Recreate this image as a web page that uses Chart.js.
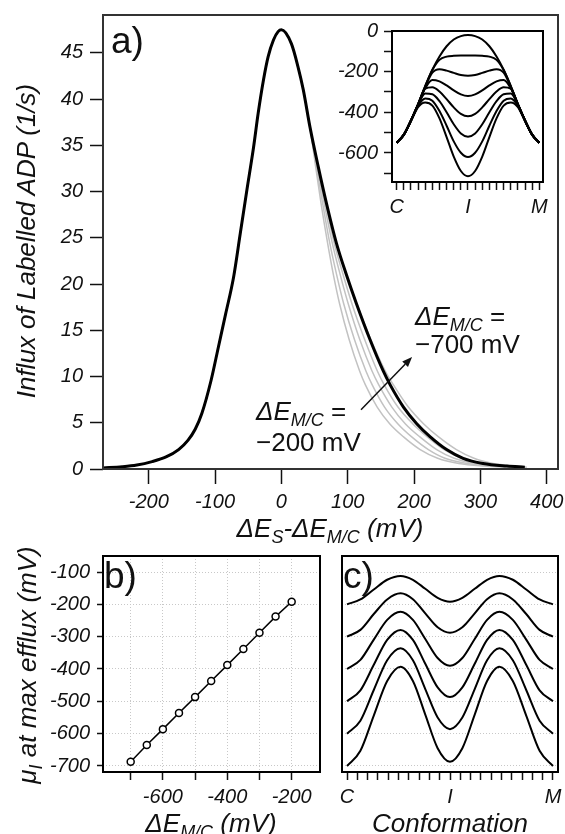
<!DOCTYPE html>
<html>
<head>
<meta charset="utf-8">
<title>Influx of labelled ADP</title>
<script src="https://cdn.jsdelivr.net/npm/chart.js@4.4.1/dist/chart.umd.min.js"></script>
<style>
  html, body { margin: 0; padding: 0; background: #fff; }
  #page { position: relative; width: 565px; height: 834px; overflow: hidden;
          font-family: 'Liberation Sans', Arial, sans-serif; color: #111; }
  canvas { position: absolute; }
  .txt { position: absolute; white-space: nowrap; font-size: 26px; line-height: 26px; }
  .it { font-style: italic; }
  .sub { font-size: 18px; line-height: 0; position: relative; top: 6px; font-style: italic; }
  .rot { transform: translate(-50%, -50%) rotate(-90deg); }
  .ctr { transform: translateX(-50%); }
  .panel { font-size: 37px; line-height: 37px; }
</style>
</head>
<body>
<div id="page">
  <canvas id="chartA" width="565" height="545" style="left:0;top:0"></canvas>
  <canvas id="chartInset" width="260" height="210" style="left:300px;top:15px"></canvas>
  <canvas id="chartB" width="330" height="294" style="left:0;top:540px"></canvas>
  <canvas id="chartC" width="235" height="294" style="left:330px;top:540px"></canvas>

  <div class="txt panel" style="left:111px;top:22px">a)</div>
  <div class="txt panel" style="left:104px;top:557px">b)</div>
  <div class="txt panel" style="left:343px;top:557px">c)</div>

  <div class="txt it rot" style="left:26px;top:241px">Influx of Labelled ADP (1/s)</div>
  <div class="txt ctr" style="left:330px;top:515px"><span class="it">ΔE</span><span class="sub">S</span><span class="it">-ΔE</span><span class="sub">M/C</span><span class="it"> (mV)</span></div>

  <div class="txt" style="left:415px;top:303px"><span class="it">ΔE</span><span class="sub">M/C</span> =</div>
  <div class="txt" style="left:415px;top:331px">−700 mV</div>
  <div class="txt" style="left:256px;top:398px"><span class="it">ΔE</span><span class="sub">M/C</span> =</div>
  <div class="txt" style="left:256px;top:429px">−200 mV</div>

  <div class="txt it rot" style="left:27px;top:665px">μ<span class="sub">I</span> at max efflux (mV)</div>
  <div class="txt ctr" style="left:211px;top:810px"><span class="it">ΔE</span><span class="sub">M/C</span><span class="it"> (mV)</span></div>
  <div class="txt it ctr" style="left:450px;top:810px">Conformation</div>
</div>

<script>
// ---- panel a: influx vs ΔE_S-ΔE_M/C ----
// rising flank, identical for every ΔE_M/C
const flankX = [-269, -240, -218, -195, -174, -155, -141, -130, -120, -106, -95, -84, -72, -62, -52, -42, -35, -27, -20, -12, -5];
const flankY = [0.12, 0.25, 0.43, 0.8, 1.3, 2.1, 3.1, 4.3, 6.0, 9.6, 13.2, 16.8, 20.8, 25.5, 30.2, 34.8, 38.5, 42.1, 44.6, 46.4, 47.3];
// falling flank: common levels, x read for each curve
const tailY   = [47.5, 46, 43.5, 41, 37, 32.7, 28.7, 24.4, 21.0, 17.9, 14.0, 10.6, 9.1, 6.7, 4.9, 3.5, 2.1, 1.16, 0.6, 0.32, 0.2];
const tail200 = [0, 15, 25, 33, 43, 51.6, 59.8, 69.7, 78.4, 87.6, 102.1, 117.9, 126.6, 144.4, 163.2, 183.7, 209.2, 235.6, 267.5, 306, 338];
const tail300 = [0, 15, 25, 33, 43, 52.7, 62.2, 73.0, 83.3, 93.8, 110.1, 127.4, 136.9, 155.5, 175.4, 196, 221.6, 246.6, 279.7, 316.2, 345];
const tail400 = [0, 15, 25, 33, 43, 53.8, 64.6, 76.8, 88.7, 100.6, 118.1, 136.6, 146.8, 166.5, 186.7, 208.3, 234.1, 260.3, 291.8, 326.4, 352];
const tail500 = [0, 15, 25, 33, 43, 54.9, 66.6, 79.7, 93.1, 106.2, 125.5, 144.6, 155.0, 175.7, 197.9, 219.5, 245.3, 271.3, 301, 336.6, 360];
const tail600 = [0, 15, 25, 33, 43, 55.5, 68, 83, 98, 113, 133.5, 153.5, 164, 184, 204, 224, 249, 274, 304, 340, 367];
const tail700 = [0, 15, 25, 33, 43, 55.5, 68, 83, 98, 113.6, 134.8, 156.6, 168.9, 191.4, 214.2, 236.5, 263.9, 290.4, 319.2, 350.2, 370];
const xTicksA = [-200, -100, 0, 100, 200, 300, 400];
const yTicksA = [0, 5, 10, 15, 20, 25, 30, 35, 40, 45];
const arrowTail = [120, 6.4];
const arrowHead = [197, 12.1];

// ---- inset: energy profiles along the conformation coordinate ----
const insetS = [0, 0.05, 0.1, 0.15, 0.2, 0.25, 0.3, 0.35, 0.4, 0.45, 0.5, 0.55, 0.6, 0.65, 0.7, 0.75, 0.8, 0.85, 0.9, 0.95, 1];
const inset0 = [-550, -510, -440, -360, -270, -190, -125, -75, -42, -25, -20, -25, -42, -75, -125, -190, -270, -360, -440, -510, -550];
const inset1 = [-550, -510, -440, -360, -272, -192, -142, -126, -122, -121, -121, -121, -122, -126, -142, -192, -272, -360, -440, -510, -550];
const inset2 = [-550, -510, -440, -360, -275, -205, -188, -195, -206, -216, -220, -216, -206, -195, -188, -205, -275, -360, -440, -510, -550];
const inset3 = [-550, -510, -440, -362, -282, -241, -248, -268, -292, -312, -320, -312, -292, -268, -248, -241, -282, -362, -440, -510, -550];
const inset4 = [-550, -510, -440, -362, -284, -277, -298, -335, -376, -408, -420, -408, -376, -335, -298, -277, -284, -362, -440, -510, -550];
const inset5 = [-550, -510, -441, -364, -308, -311, -345, -400, -459, -504, -520, -504, -459, -400, -345, -311, -308, -364, -441, -510, -550];
const inset6 = [-550, -511, -442, -368, -332, -343, -394, -466, -543, -599, -620, -599, -543, -466, -394, -343, -332, -368, -442, -511, -550];
const inset7 = [-550, -512, -444, -375, -352, -367, -430, -522, -618, -689, -715, -689, -618, -522, -430, -367, -352, -375, -444, -512, -550];
const insetYTicks = [0, -100, -200, -300, -400, -500, -600, -700];

// ---- panel b ----
const deltaEmc = [-700, -650, -600, -550, -500, -450, -400, -350, -300, -250, -200];
const muIatMax = [-687, -635, -586, -536, -487, -437, -388, -338, -288, -238, -192];
const xTicksB = [-700, -600, -500, -400, -300, -200];
const yTicksB = [-700, -600, -500, -400, -300, -200, -100];

// ---- panel c ----
const confS = [0, 0.065, 0.13, 0.195, 0.26, 0.32, 0.38, 0.44, 0.5, 0.56, 0.62, 0.68, 0.74, 0.805, 0.87, 0.935, 1];
const profile200 = [-200, -185, -154, -124, -112, -124, -152, -180, -192, -180, -152, -124, -112, -124, -154, -185, -200];
const profile300 = [-300, -279, -230, -185, -166, -184, -228, -271, -288, -271, -228, -184, -166, -185, -230, -279, -300];
const profile400 = [-400, -372, -309, -248, -223, -248, -307, -366, -390, -366, -307, -248, -223, -248, -309, -372, -400];
const profile500 = [-500, -466, -387, -310, -279, -310, -384, -457, -487, -457, -384, -310, -279, -310, -387, -466, -500];
const profile600 = [-600, -560, -465, -373, -336, -373, -462, -550, -586, -550, -462, -373, -336, -373, -465, -560, -600];
const profile700 = [-700, -653, -544, -437, -393, -437, -541, -645, -687, -645, -541, -437, -393, -437, -544, -653, -700];
const confTicks = [0, 0.05, 0.1, 0.15, 0.2, 0.25, 0.3, 0.35, 0.4, 0.45, 0.5, 0.55, 0.6, 0.65, 0.7, 0.75, 0.8, 0.85, 0.9, 0.95, 1];
const confLabelAt = [0, 0.5, 1];
const confLabelText = ['C', 'I', 'M'];

const FONT = "'Liberation Sans', Arial, sans-serif";
const tickFont = { family: FONT, size: 20, style: 'italic' };
const INK = '#111';

function curvePoints(xs, ys) {
    return xs.map((x, i) => ({ x: x, y: ys[i] }));
}

// box around the plot area, optional white fill underneath
const framePlugin = {
    id: 'frame',
    beforeDraw(chart, args, opts) {
        if (!opts.fill) return;
        const a = chart.chartArea;
        chart.ctx.save();
        chart.ctx.fillStyle = opts.fill;
        chart.ctx.fillRect(a.left, a.top, a.right - a.left, a.bottom - a.top);
        chart.ctx.restore();
    },
    afterDraw(chart, args, opts) {
        const a = chart.chartArea;
        const ctx = chart.ctx;
        ctx.save();
        ctx.strokeStyle = opts.color || INK;
        ctx.lineWidth = opts.width || 2;
        ctx.strokeRect(a.left, a.top, a.right - a.left, a.bottom - a.top);
        ctx.restore();
    }
};

// arrow in panel a, from the -200 mV label towards the -700 mV label
const arrowPlugin = {
    id: 'arrow',
    afterDatasetsDraw(chart) {
        const ctx = chart.ctx;
        const sx = chart.scales.x, sy = chart.scales.y;
        const x0 = sx.getPixelForValue(arrowTail[0]), y0 = sy.getPixelForValue(arrowTail[1]);
        const x1 = sx.getPixelForValue(arrowHead[0]), y1 = sy.getPixelForValue(arrowHead[1]);
        const ang = Math.atan2(y1 - y0, x1 - x0);
        const len = 10, half = 4;
        ctx.save();
        ctx.strokeStyle = INK;
        ctx.fillStyle = INK;
        ctx.lineWidth = 1.5;
        ctx.beginPath();
        ctx.moveTo(x0, y0);
        ctx.lineTo(x1 - len * Math.cos(ang), y1 - len * Math.sin(ang));
        ctx.stroke();
        ctx.beginPath();
        ctx.moveTo(x1, y1);
        ctx.lineTo(x1 - len * Math.cos(ang) + half * Math.sin(ang), y1 - len * Math.sin(ang) - half * Math.cos(ang));
        ctx.lineTo(x1 - len * Math.cos(ang) - half * Math.sin(ang), y1 - len * Math.sin(ang) + half * Math.cos(ang));
        ctx.closePath();
        ctx.fill();
        ctx.restore();
    }
};

function fixedTicks(list) {
    return scale => { scale.ticks = list.map(v => ({ value: v })); };
}
function fixHeight(h) {
    return scale => { scale.height = h; scale.paddingLeft = 0; scale.paddingRight = 0; };
}
function fixWidth(w) {
    return scale => { scale.width = w; scale.paddingTop = 0; scale.paddingBottom = 0; };
}

function baseOptions(padding, frame) {
    return {
        responsive: false,
        animation: false,
        events: [],
        layout: { padding: padding, autoPadding: false },
        plugins: { legend: { display: false }, tooltip: { enabled: false }, frame: frame },
        elements: { point: { radius: 0 }, line: { cubicInterpolationMode: 'monotone', fill: false } }
    };
}

function initPanelA() {
    const flank = curvePoints(flankX, flankY);
    const bell = tail => flank.concat(curvePoints(tail, tailY));
    const grayTails = [tail200, tail300, tail400, tail500, tail700];
    const datasets = [{ data: bell(tail600), borderColor: '#000', borderWidth: 3 }];
    grayTails.forEach(t => datasets.push({ data: bell(t), borderColor: '#c2c2c2', borderWidth: 1.5 }));

    const opts = baseOptions({ top: 15, right: 7, left: 0, bottom: 0 }, { width: 2, color: '#333' });
    opts.scales = {
        x: {
            type: 'linear', min: -269, max: 417,
            afterBuildTicks: fixedTicks(xTicksA), afterFit: fixHeight(76),
            grid: { drawOnChartArea: false, tickLength: 15, tickColor: INK, tickWidth: 1.5 },
            border: { display: false },
            ticks: { font: tickFont, color: INK, padding: 6, maxRotation: 0, autoSkip: false }
        },
        y: {
            type: 'linear', min: 0, max: 49.1,
            afterBuildTicks: fixedTicks(yTicksA), afterFit: fixWidth(103),
            grid: { drawOnChartArea: false, tickLength: 13, tickColor: INK, tickWidth: 1.5 },
            border: { display: false },
            ticks: { font: tickFont, color: INK, padding: 7, autoSkip: false }
        }
    };
    new Chart(document.getElementById('chartA'), {
        type: 'line', data: { datasets: datasets }, options: opts, plugins: [framePlugin, arrowPlugin]
    });
}

function initInset() {
    const profiles = [inset0, inset1, inset2, inset3, inset4, inset5, inset6, inset7];
    const datasets = profiles.map(p => ({ data: curvePoints(insetS, p), borderColor: '#000', borderWidth: 2 }));
    const opts = baseOptions({ top: 16, right: 17, left: 0, bottom: 0 }, { width: 2, color: '#000', fill: '#fff' });
    opts.scales = {
        x: {
            type: 'linear', min: -0.033, max: 1.026,
            afterBuildTicks: fixedTicks(confTicks), afterFit: fixHeight(43),
            grid: { drawOnChartArea: false, tickLength: 8, tickColor: INK, tickWidth: 1.5 },
            border: { display: false },
            ticks: {
                font: tickFont, color: INK, padding: 5, maxRotation: 0, autoSkip: false,
                callback: v => { const k = confLabelAt.indexOf(v); return k < 0 ? '' : confLabelText[k]; }
            }
        },
        y: {
            type: 'linear', min: -743, max: 0,
            afterBuildTicks: fixedTicks(insetYTicks), afterFit: fixWidth(92),
            grid: { drawOnChartArea: false, tickLength: 8, tickColor: INK, tickWidth: 1.5 },
            border: { display: false },
            ticks: { font: tickFont, color: INK, padding: 6, autoSkip: false,
                     callback: v => (v % 200 === 0 ? String(v) : '') }
        }
    };
    new Chart(document.getElementById('chartInset'), {
        type: 'line', data: { datasets: datasets }, options: opts, plugins: [framePlugin]
    });
}

function initPanelB() {
    const opts = baseOptions({ top: 16, right: 10, left: 0, bottom: 0 }, { width: 2, color: '#000' });
    opts.scales = {
        x: {
            type: 'linear', min: -786, max: -112,
            afterBuildTicks: fixedTicks(xTicksB), afterFit: fixHeight(62),
            grid: { color: '#c8c8c8', lineWidth: 1, tickLength: 8, tickColor: INK, tickWidth: 1.5 },
            border: { display: false, dash: [1, 2] },
            ticks: { font: tickFont, color: INK, padding: 5, maxRotation: 0, autoSkip: false,
                     callback: v => (v % 200 === 0 ? String(v) : '') }
        },
        y: {
            type: 'linear', min: -718.6, max: -50.5,
            afterBuildTicks: fixedTicks(yTicksB), afterFit: fixWidth(103),
            grid: { color: '#c8c8c8', lineWidth: 1, tickLength: 6, tickColor: INK, tickWidth: 1.5 },
            border: { display: false, dash: [1, 2] },
            ticks: { font: tickFont, color: INK, padding: 7, autoSkip: false }
        }
    };
    new Chart(document.getElementById('chartB'), {
        type: 'line',
        data: { datasets: [{
            data: curvePoints(deltaEmc, muIatMax),
            borderColor: '#000', borderWidth: 1.5,
            pointRadius: 3.5, pointBorderWidth: 1.5, pointBackgroundColor: '#fff', pointBorderColor: '#000',
            cubicInterpolationMode: 'default', tension: 0
        }] },
        options: opts, plugins: [framePlugin]
    });
}

function initPanelC() {
    const profiles = [profile200, profile300, profile400, profile500, profile600, profile700];
    const datasets = profiles.map(p => ({ data: curvePoints(confS, p), borderColor: '#000', borderWidth: 2 }));
    const opts = baseOptions({ top: 16, right: 7, left: 0, bottom: 0 }, { width: 2, color: '#000' });
    opts.scales = {
        x: {
            type: 'linear', min: -0.0243, max: 1.0243,
            afterBuildTicks: fixedTicks(confTicks), afterFit: fixHeight(62),
            grid: { drawOnChartArea: false, tickLength: 8, tickColor: INK, tickWidth: 1.5 },
            border: { display: false },
            ticks: {
                font: tickFont, color: INK, padding: 5, maxRotation: 0, autoSkip: false,
                callback: v => { const k = confLabelAt.indexOf(v); return k < 0 ? '' : confLabelText[k]; }
            }
        },
        y: {
            type: 'linear', min: -718.6, max: -50.5,
            afterBuildTicks: fixedTicks(yTicksB), afterFit: fixWidth(12),
            grid: { color: '#c8c8c8', lineWidth: 1, drawTicks: false },
            border: { display: false, dash: [1, 2] },
            ticks: { display: false }
        }
    };
    new Chart(document.getElementById('chartC'), {
        type: 'line', data: { datasets: datasets }, options: opts, plugins: [framePlugin]
    });
}

document.addEventListener('DOMContentLoaded', () => {
    if (typeof Chart === 'undefined') {
        console.warn('Chart.js not loaded');
        return;
    }
    initPanelA();
    initInset();
    initPanelB();
    initPanelC();
});
</script>
</body>
</html>
